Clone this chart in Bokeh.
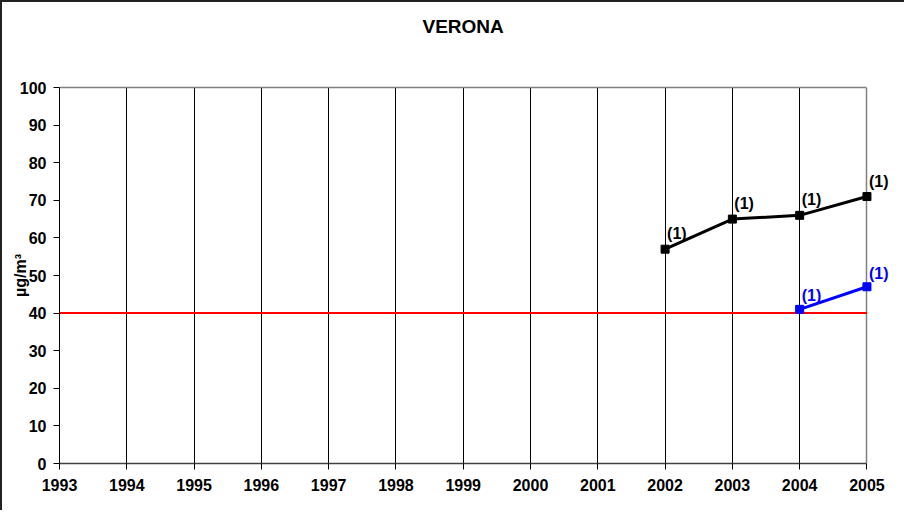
from bokeh.plotting import figure
from bokeh.models import Range1d, FixedTicker, ColumnDataSource, LinearAxis, Grid
from bokeh.core.properties import value
from bokeh.embed import file_html
from bokeh.resources import INLINE

# ---- data ----
years = [1993, 1994, 1995, 1996, 1997, 1998, 1999, 2000, 2001, 2002, 2003, 2004, 2005]
black_years = [2002, 2003, 2004, 2005]
black_values = [57, 65, 66, 71]
black_labels = ["(1)", "(1)", "(1)", "(1)"]
blue_years = [2004, 2005]
blue_values = [41, 47]
blue_labels = ["(1)", "(1)"]
limit_years = [1993, 2005]
limit_values = [40, 40]
y_ticks = [0, 10, 20, 30, 40, 50, 60, 70, 80, 90, 100]
title_text = "VERONA"
unit_text = "µg/m³"

FONT = "Liberation Sans"
X0, X1 = years[0], years[-1]

p = figure(width=904, height=510, output_backend="svg", toolbar_location=None,
           x_range=Range1d(X0, X1 + 0.35), y_range=Range1d(0, 100),
           min_border_left=57, min_border_right=16, min_border_top=85, min_border_bottom=49)
p.styles = {"border-left": "2px solid #222222", "border-top": "2px solid #222222"}
p.outline_line_color = None

# title (left-aligned with an offset so that it is centred over 1993-2005)
p.title.text = title_text
p.title.align = "left"
p.title.offset = 363
p.title.standoff = 10
p.title.text_font = FONT
p.title.text_font_style = "bold"
p.title.text_font_size = "19px"
p.title.text_color = "#000000"

# axes
p.xaxis.ticker = FixedTicker(ticks=years)
p.xaxis.bounds = (X0, X1)
p.yaxis.ticker = FixedTicker(ticks=y_ticks)
for ax in (p.xaxis[0], p.yaxis[0]):
    ax.major_label_text_font = FONT
    ax.major_label_text_font_style = "bold"
    ax.major_label_text_font_size = "16px"
    ax.major_label_text_color = "#000000"
    ax.minor_tick_line_color = None
    ax.major_tick_in = 0
    ax.major_tick_out = 6
    ax.major_tick_line_color = "#000000"
    ax.axis_line_color = "#000000"
    ax.axis_line_width = 1
p.xaxis.axis_line_color = "#404040"
p.xaxis.axis_line_width = 1.5
p.xaxis.major_label_standoff = 9
p.yaxis.major_label_standoff = 7

p.yaxis.axis_label = unit_text
p.yaxis.axis_label_text_font = FONT
p.yaxis.axis_label_text_font_style = "bold"
p.yaxis.axis_label_text_font_size = "16px"
p.yaxis.axis_label_text_color = "#000000"
p.yaxis.axis_label_standoff = -12

# top border of the plot area (its invisible tick reserves the space below the title)
top = LinearAxis(ticker=FixedTicker(ticks=[X1]), bounds=(X0, X1),
                 axis_line_color="#808080", axis_line_width=1.5,
                 major_tick_line_color=None, minor_tick_line_color=None,
                 major_tick_out=46, major_tick_in=0,
                 major_label_overrides={X1: ""}, major_label_standoff=0)
p.add_layout(top, "above")

p.ygrid.grid_line_color = None
p.xgrid.ticker = FixedTicker(ticks=years[1:-1])
p.xgrid.grid_line_color = "#000000"
p.xgrid.grid_line_width = 1

# right border of the plot area (at last year)
p.add_layout(Grid(dimension=0, ticker=FixedTicker(ticks=[X1]),
                  grid_line_color="#808080", grid_line_width=1.5))

# limit line
p.line(limit_years, limit_values, line_color="#FF0000", line_width=2)

# series
bsrc = ColumnDataSource(dict(x=black_years, y=black_values, t=black_labels))
p.line("x", "y", source=bsrc, line_color="#000000", line_width=3)
p.scatter("x", "y", source=bsrc, marker="square", size=8, fill_color="#000000", line_color="#000000")
p.text("x", "y", text="t", source=bsrc, x_offset=2, y_offset=-7,
       text_font=value(FONT), text_font_style="bold", text_font_size="16px",
       text_color="#000000", text_align="left", text_baseline="bottom")

usrc = ColumnDataSource(dict(x=blue_years, y=blue_values, t=blue_labels))
p.line("x", "y", source=usrc, line_color="#0000FF", line_width=3)
p.scatter("x", "y", source=usrc, marker="square", size=8, fill_color="#0000FF", line_color="#0000FF")
p.text("x", "y", text="t", source=usrc, x_offset=2, y_offset=-5,
       text_font=value(FONT), text_font_style="bold", text_font_size="16px",
       text_color="#0000FF", text_align="left", text_baseline="bottom")

open("out.html", "w").write(file_html(p, INLINE))
